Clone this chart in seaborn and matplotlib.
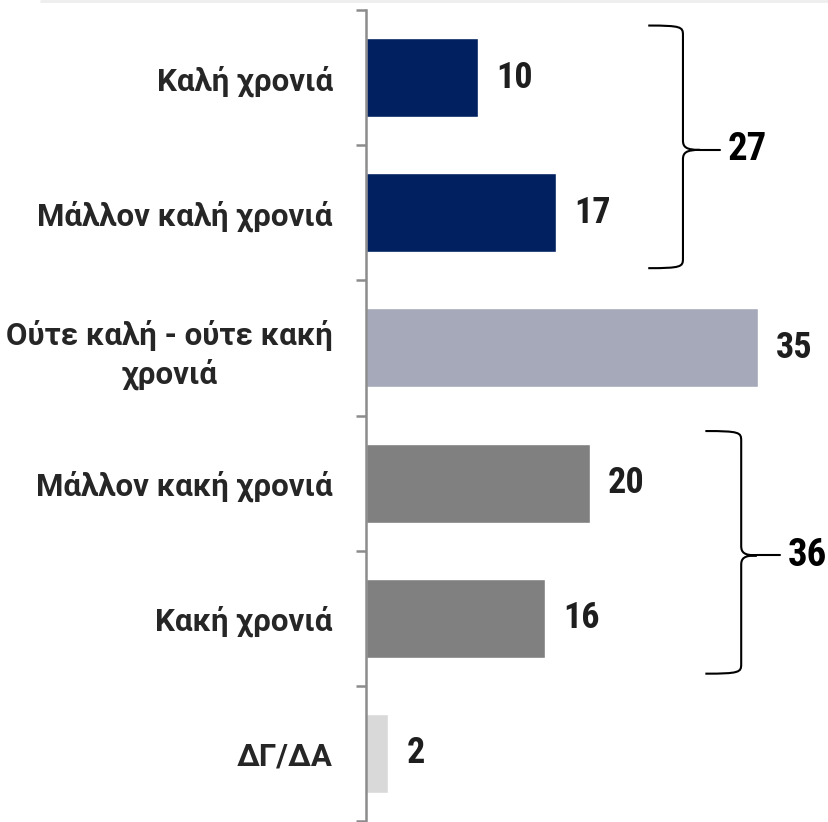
import pandas as pd
import seaborn as sns
import matplotlib.pyplot as plt
from matplotlib import font_manager
from matplotlib.path import Path
from matplotlib.patches import PathPatch
from matplotlib.lines import Line2D

# Data
categories = ['Καλή χρονιά', 'Μάλλον καλή χρονιά', 'Ούτε καλή - ούτε κακή\nχρονιά',
              'Μάλλον κακή χρονιά', 'Κακή χρονιά', 'ΔΓ/ΔΑ']
values = [10, 17, 35, 20, 16, 2]
bar_colors = ['#002060', '#002060', '#A6A9B9', '#808080', '#808080', '#D9D9D9']

sns.set_style('white')

# pick a narrow font for the numbers if one is around
names = {f.name for f in font_manager.fontManager.ttflist}
narrow = 'DejaVu Sans'
for cand in ['Liberation Sans Narrow', 'Roboto Condensed', 'Open Sans Condensed']:
    if cand in names:
        narrow = cand
        break
label_font = 'Roboto' if 'Roboto' in names else narrow
plt.rcParams['font.family'] = [narrow, 'DejaVu Sans']

df = pd.DataFrame({'label': categories, 'value': values})

fig = plt.figure(figsize=(8.29, 8.22), dpi=100)
ax = fig.add_axes([366 / 829, 1 / 822, 463 / 829, 811 / 822])

sns.barplot(data=df, x='value', y='label', hue='label', palette=bar_colors,
            orient='h', width=0.585, legend=False, ax=ax, saturation=1)

ax.set_xlim(0, 463 / 11.2)
ax.set_ylim(len(categories) - 0.5, -0.5)

for c in ax.containers:
    ax.bar_label(c, padding=13, fontsize=26, fontweight='bold', color='#1e1e1e')

# axes styling
for s in ['top', 'right', 'bottom']:
    ax.spines[s].set_visible(False)
ax.spines['left'].set_color('#8c8c8c')
ax.spines['left'].set_linewidth(1.8)
ax.set_xticks([])
ax.set_xlabel('')
ax.set_ylabel('')
ax.set_yticks(range(len(categories)))
ax.set_yticklabels(categories, fontsize=22.5, fontweight='bold', color='#262626',
                   multialignment='center', linespacing=1.3,
                   family=[label_font, 'DejaVu Sans'])
ax.tick_params(axis='y', which='major', length=0, pad=24)
ax.set_yticks([i - 0.5 for i in range(len(categories) + 1)], minor=True)
ax.tick_params(axis='y', which='minor', left=True, length=7.5, width=1.8,
               color='#8c8c8c')


def brace(ax, i0, i1, total, x0, xv, xt, xl):
    top = i0 - 0.5 + 0.115
    bot = i1 + 0.5 - 0.09
    mid = (i0 + i1) / 2 + 0.035
    ry = 0.07
    dx = (xv - x0)
    verts = [
        (x0, top), (x0 + dx * 0.95, top), (xv, top + 0.01), (xv, top + ry),
        (xv, mid - ry),
        (xv, mid - 0.02), (xv + (xt - xv) * 0.2, mid), (xt, mid),
        (xv + (xt - xv) * 0.2, mid), (xv, mid + 0.02), (xv, mid + ry),
        (xv, bot - ry),
        (xv, bot - 0.01), (x0 + dx * 0.95, bot), (x0, bot),
    ]
    codes = [Path.MOVETO, Path.CURVE4, Path.CURVE4, Path.CURVE4,
             Path.LINETO,
             Path.CURVE4, Path.CURVE4, Path.CURVE4,
             Path.CURVE4, Path.CURVE4, Path.CURVE4,
             Path.LINETO,
             Path.CURVE4, Path.CURVE4, Path.CURVE4]
    ax.add_patch(PathPatch(Path(verts, codes), fill=False, lw=1.5,
                           edgecolor='black', clip_on=False))
    ax.plot([xt, xl], [mid, mid], color='black', lw=1.5, clip_on=False)
    ax.text(xl + 0.7, mid, str(total), fontsize=28, fontweight='bold',
            va='center', ha='left', color='black')


brace(ax, 0, 1, values[0] + values[1], 25.2, 28.3, 29.8, 31.6)
brace(ax, 3, 4, values[3] + values[4], 30.3, 33.5, 34.9, 37.0)

fig.add_artist(Line2D([0.05, 1.0], [0.9985, 0.9985], color='#eeeeee', lw=2))

plt.savefig('out.png', dpi=100)
